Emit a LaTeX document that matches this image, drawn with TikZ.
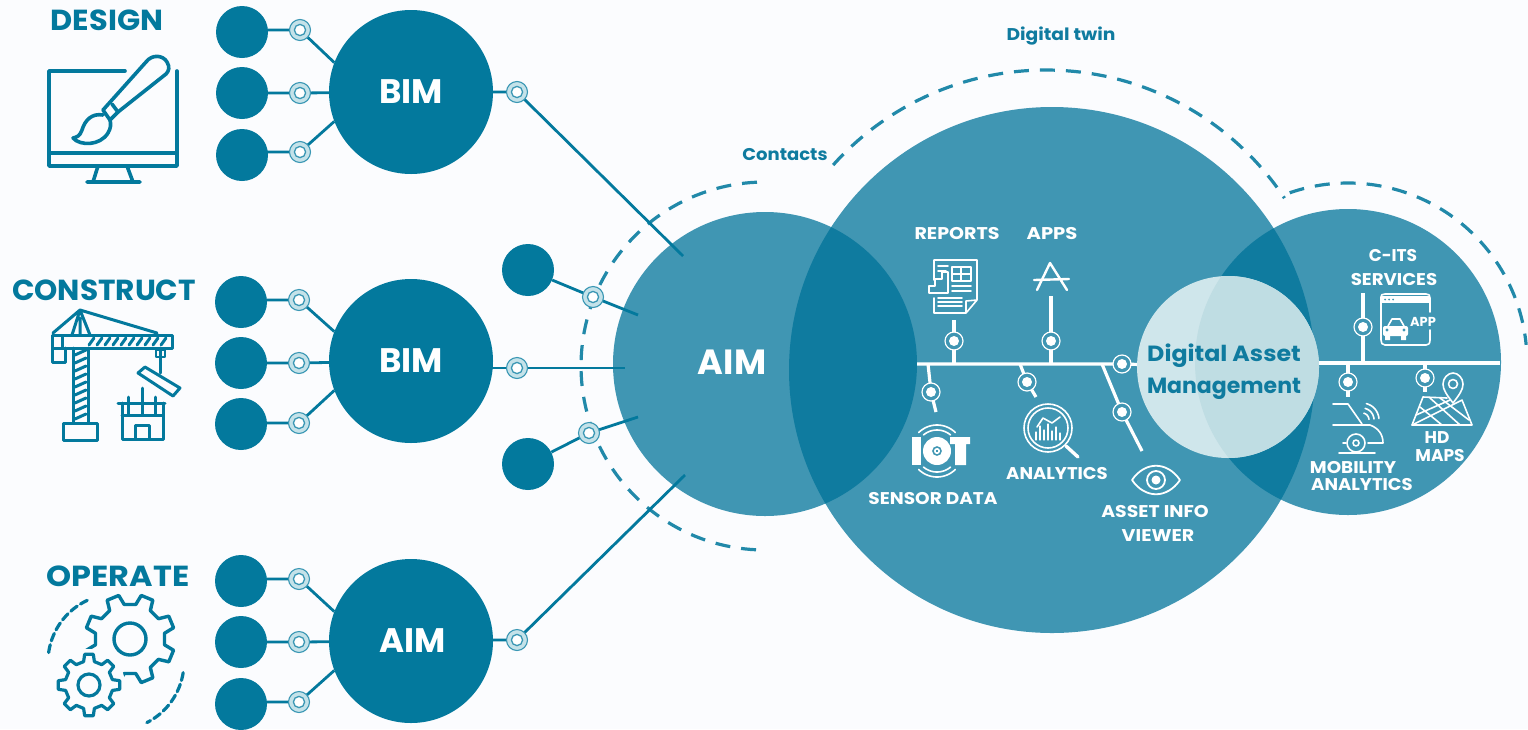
\documentclass[tikz,border=0pt]{standalone}
\usepackage{fontspec}
\usepackage{graphicx}
\setmainfont{Poppins}
\usetikzlibrary{calc}
\definecolor{bgc}{HTML}{FBFCFE}
\definecolor{deep}{HTML}{03799D}
\definecolor{mid}{HTML}{4096B3}
\definecolor{lens}{HTML}{0F7B9F}
\definecolor{damA}{HTML}{CFE6EB}
\definecolor{damB}{HTML}{BFDDE3}
\definecolor{rlight}{HTML}{C4E2E9}
\definecolor{rline}{HTML}{3A97B4}
\pgfdeclarelayer{bgl}\pgfdeclarelayer{bigc}\pgfdeclarelayer{lines}
\pgfsetlayers{bgl,bigc,lines,main}
\newcommand{\sz}[1]{\fontsize{#1}{#1}\selectfont}
\newcommand{\sx}[2]{\scalebox{#1}[1]{#2}}
\tikzset{
 x=1pt,y=-1pt,
 smallc/.style={circle,fill=deep,minimum size=52pt,inner sep=0},
 bigb/.style={circle,fill=deep,minimum size=164pt,inner sep=0,text=white,font=\bfseries\sz{34}},
 ringo/.style={circle,fill=rlight,draw=rline,line width=1.1pt,minimum size=21pt,inner sep=0,
   path picture={\fill[white,draw=rline,line width=1.3pt] (path picture bounding box.center) circle[radius=5.6pt];}},
 ringw/.style={circle,fill=mid,draw=white,line width=1.2pt,minimum size=18pt,inner sep=0,
   path picture={\fill[white] (path picture bounding box.center) circle[radius=5pt];}},
 conn/.style={draw=deep,line width=2.8pt},
 wl/.style={draw=white,line width=3.2pt},
 dsh/.style={draw=deep!88!white,line width=3.2pt,dash pattern=on 15pt off 11pt},
 dsm/.style={draw=deep,line width=3.2pt,dash pattern=on 8pt off 4pt,line cap=round},
 head/.style={text=deep,font=\bfseries\sz{29},inner sep=0},
 lab/.style={text=white,font=\bfseries\sz{17},inner sep=0},
 small/.style={text=lens,font=\bfseries\sz{17},inner sep=0},
 ico/.style={draw=deep,line width=3.6pt,line join=round,line cap=round},
 wico/.style={draw=white,line width=1.6pt,line join=round,line cap=round},
 gearline/.style={draw=deep,line width=3.4pt,line join=round},
}
\begin{document}
\begin{tikzpicture}
\useasboundingbox (0,0) rectangle (1528,729);
\begin{pgfonlayer}{bgl}
\fill[bgc] (0,0) rectangle (1528,729);
\end{pgfonlayer}
% big circles
\begin{pgfonlayer}{bigc}
\node[circle,fill=mid,minimum size=304pt,inner sep=0] (aim) at (765,364) {};
\node[circle,fill=mid,minimum size=526pt,inner sep=0] (twin) at (1052,370) {};
\node[circle,fill=mid,minimum size=306pt,inner sep=0] (rgt) at (1348,362) {};
\begin{scope}\clip (1052,370) circle[radius=263];
\fill[lens] (765,364) circle[radius=152];
\fill[lens] (1348,362) circle[radius=153];
\end{scope}
\node[circle,fill=damA,minimum size=182pt,inner sep=0] (dam) at (1228,367) {};
\begin{scope}\clip (1348,362) circle[radius=153];
\fill[damB] (1228,367) circle[radius=91];
\end{scope}
\end{pgfonlayer}
% left circles
\node[bigb] (b1) at (411,92) {\raisebox{-1pt}{BIM}};
\node[bigb] (b2) at (411,361) {\raisebox{-1pt}{BIM}};
\node[bigb] (b3) at (411,641) {\raisebox{-1pt}{\hspace*{4pt}AIM}};
\node[smallc] (s1) at (242,32) {};
\node[smallc] (s2) at (242,93) {};
\node[smallc] (s3) at (242,155) {};
\node[smallc] (s4) at (241,302) {};
\node[smallc] (s5) at (241,363) {};
\node[smallc] (s6) at (241,424) {};
\node[smallc] (s7) at (241,581) {};
\node[smallc] (s8) at (241,642) {};
\node[smallc] (s9) at (241,704) {};
\node[smallc] (s10) at (528,270) {};
\node[smallc] (s11) at (528,464) {};
\node[ringo] (r1) at (300,30) {};
\node[ringo] (r2) at (300,93) {};
\node[ringo] (r3) at (300,152) {};
\node[ringo] (r4) at (299,300) {};
\node[ringo] (r5) at (299,363) {};
\node[ringo] (r6) at (299,423) {};
\node[ringo] (r7) at (299,579) {};
\node[ringo] (r8) at (299,642) {};
\node[ringo] (r9) at (299,702) {};
\node[ringo] (r10) at (517,92) {};
\node[ringo] (r11) at (517,368) {};
\node[ringo] (r12) at (517,640) {};
\node[ringo] (r13) at (593,297) {};
\node[ringo] (r14) at (589,433) {};
\coordinate (e1) at (683,256);
\coordinate (e2) at (625,368);
\coordinate (e3) at (685,475);
\coordinate (e4) at (638,315);
\coordinate (e5) at (638,417);
\begin{pgfonlayer}{lines}
% dashed arcs
\draw[dsh] plot[domain=267.5:92.5,samples=90] ({765+184*cos(\x)},{366+184*sin(\x)});
\draw[dsh] plot[domain=221.9:326.5,samples=90] ({1046+286*cos(\x)},{356+286*sin(\x)});
\draw[dsh] plot[domain=-109:-5.5,samples=70] ({1348+179*cos(\x)},{362+179*sin(\x)});
\foreach \a/\b/\c/\ang in {s1/r1/b1/159,s3/r3/b1/201,s4/r4/b2/159,s6/r6/b2/201,s7/r7/b3/159,s9/r9/b3/201}
  \draw[conn] (\a |- \b) -- (\b.center) -- (\c.\ang);
\foreach \a/\b/\c in {s2/r2/b1,s5/r5/b2,s8/r8/b3}
  \draw[conn] (\a) -- (\b.center) -- (\c);
\draw[conn] (b1) -- (r10.center) -- (e1);
\draw[conn] (b2 |- r11) -- (r11.center) -- (e2);
\draw[conn] (b3 |- r12) -- (r12.center) -- (e3);
\draw[conn] (s10) -- (r13.center) -- (e4);
\draw[conn] (s11) -- (r14.center) -- (e5);
\end{pgfonlayer}
% bus
\node[ringw] (w0) at (1122,364) {};
\node[ringw] (w1) at (954,341) {};
\node[ringw] (w2) at (1051,341) {};
\node[ringw] (w3) at (931,392) {};
\node[ringw] (w4) at (1027,382) {};
\node[ringw] (w5) at (1122,412) {};
\node[ringw] (w6) at (1363,327) {};
\node[ringw] (w7) at (1348,382) {};
\node[ringw] (w8) at (1425,378) {};
\coordinate (bl) at (917,364);
\coordinate (t1) at (954,364); \coordinate (u1) at (954,320);
\coordinate (t2) at (1051,364); \coordinate (u2) at (1051,296);
\coordinate (t3) at (928,364); \coordinate (u3) at (936,412);
\coordinate (t4) at (1020,364); \coordinate (u4) at (1036,397);
\coordinate (t5) at (1102,364); \coordinate (u5) at (1142,451);
\coordinate (t6) at (1363,363); \coordinate (u6) at (1363,293);
\coordinate (t7) at (1348,363); \coordinate (u7) at (1348,397);
\coordinate (t8) at (1425,363); \coordinate (u8) at (1425,392);
\coordinate (bs) at (1319,363); \coordinate (be) at (1500,363);
\begin{pgfonlayer}{lines}
\draw[wl] (bl) -- (w0.center) -- (dam);
\draw[wl] (bs) -- (be);
\foreach \i in {1,...,8} \draw[wl] (t\i) -- (w\i.center) -- (u\i);
\end{pgfonlayer}
% texts
\node[head] (h1) at (107,20) {\sx{1.05}{DESIGN}};
\node[head] (h2) at (104,290) {\sx{1.02}{CONSTRUCT}};
\node[head] (h3) at (118,576) {\sx{1.1}{OPERATE}};
\node[text=white,font=\bfseries\sz{35},inner sep=0] (aimt) at (732,362) {AIM};
\node[small] (t-twin) at (1061,36) {\sx{1.1}{Digital twin}};
\node[small] (t-cont) at (785,155) {\sx{1.06}{Contacts}};
\node[text=lens,font=\bfseries\sz{22},inner sep=0] (t-dama) at (1224,356) {\sx{1.08}{Digital Asset}};
\node[text=lens,font=\bfseries\sz{22},inner sep=0] (t-damb) at (1224,389) {Management};
\node[lab] (l1) at (957,234) {\sx{1.12}{REPORTS}};
\node[lab] (l2) at (1052,234) {\sx{1.15}{APPS}};
\node[lab] (l3) at (933,498) {\sx{1.09}{SENSOR DATA}};
\node[lab] (l4) at (1057,473) {\sx{1.06}{ANALYTICS}};
\node[lab] (l5) at (1155,511) {\sx{1.11}{ASSET INFO}};
\node[lab] (l6) at (1158,536) {\sx{1.12}{VIEWER}};
\node[lab] (l7) at (1393,255) {C-ITS};
\node[lab] (l8) at (1394,279) {\sx{1.07}{SERVICES}};
\node[lab] (l9) at (1353,467) {\sx{1.08}{MOBILITY}};
\node[lab] (l10) at (1362,484) {\sx{1.06}{ANALYTICS}};
\node[lab] (l11) at (1437,438) {HD};
\node[lab] (l12) at (1440,455) {MAPS};
% monitor icon
\draw[ico] (125,71) -- (49,71) -- (49,166) -- (177,166) -- (177,71);
\draw[ico] (49,153) -- (177,153);
\draw[ico] (98,166) -- (93,182) (127,166) -- (133,182) (87,182) -- (140,182);
\draw[ico] (103,110) -- (146,62) .. controls (152,54) and (163,55) .. (167,62) .. controls (170,67) and (169,71) .. (166,74) -- (118,112);
\draw[ico] (103,110) -- (110,120) -- (118,112) -- (112,104);
\draw[ico] (103,115) .. controls (92,113) and (85,120) .. (82,130) .. controls (80,136) and (77,137) .. (73,138) .. controls (80,146) and (100,146) .. (108,133) .. controls (111,128) and (111,124) .. (110,120);
% crane icon
\draw[ico,line width=3pt] (52,335) rectangle (172,348);
\draw[ico,line width=3pt] (52,348) -- (52,362) -- (65,362) -- (65,348);
\draw[ico,line width=3pt] (53,333) -- (80,310) -- (157,333) (80,310) -- (72,335) (80,310) -- (90,335) (80,318) -- (80,335);
\draw[ico,line width=3pt] (73,348) -- (73,423) (88,348) -- (88,423);
\draw[ico,line width=3pt] (63,423) rectangle (97,440);
\foreach \yy in {350,358,366,374,382,390,398,406,414} \draw[ico,line width=3pt] (75,\yy+5) -- (86,\yy);
\foreach \xx in {92,100,108,116,124,132,140,148,156,164} \draw[ico,line width=3pt] (\xx-3,345) -- (\xx+2,338);
\draw[ico,line width=3pt] (62,337) -- (62,347);
\draw[ico,line width=3pt] (160,348) -- (160,373);
\draw[ico,line width=2.6pt] (156,350) rectangle (165,357);
\draw[ico,line width=3pt] (138,373) -- (145,367) -- (180,388) -- (173,396) -- cycle;
\draw[ico,line width=3pt] (118,403) -- (165,403) (122,415) -- (163,415) (122,403) -- (122,439) -- (163,439) -- (163,403) (142,388) -- (142,415) (128,397) -- (128,415) (155,397) -- (155,415);
\draw[ico,line width=3pt] (135,439) -- (135,425) -- (149,425) -- (149,439);
% gears
\begin{scope}[shift={(130,639)}]
\draw[gearline] (22.5-13:35) \foreach \k in {0,...,7}{ -- (22.5+\k*45-13:35) -- (22.5+\k*45-8:45) -- (22.5+\k*45+8:45) -- (22.5+\k*45+13:35)} -- cycle;
\draw[gearline] (0,0) circle[radius=16];
\end{scope}
\begin{scope}[shift={(89,685)}]
\fill[bgc] (0,0) circle[radius=36];
\draw[gearline,line width=3.2pt] (0-13:24) \foreach \k in {0,...,7}{ -- (\k*45-13:24) -- (\k*45-8:31) -- (\k*45+8:31) -- (\k*45+13:24)} -- cycle;
\draw[gearline,line width=3.2pt] (0,0) circle[radius=11];
\end{scope}
\draw[dsm] plot[domain=188:245,samples=30] ({116+68*cos(\x)},{662+68*sin(\x)});
\draw[dsm] plot[domain=9:63,samples=30] ({116+68*cos(\x)},{662+68*sin(\x)});
% report icon
\draw[wico] (966,313) -- (934,313) -- (934,298) (934,280) -- (934,260) -- (977,260) -- (977,300) -- (966,313) -- (966,301) -- (977,300);
\draw[wico] (929,293) -- (929,286) -- (935,286) -- (935,279) -- (942,279) -- (942,272) -- (948,272) -- (948,293) -- cycle;
\draw[wico] (952,267) rectangle (971,281);
\draw[wico] (961,267) -- (961,281) (952,274) -- (971,274);
\draw[wico] (938,266) -- (948,266) (938,271) -- (946,271);
\draw[wico] (952,286) -- (971,286) (952,291) -- (971,291);
\draw[wico] (938,298) -- (962,298) (938,302) -- (962,302) (938,306) -- (962,306);
% apps icon
\draw[wico,line width=2.4pt] (1037,290) -- (1050,263) -- (1067,290) (1034,280) -- (1069,279);
% IoT icon
\fill[white] (912,437) rectangle (921,465);
\fill[white] (950,437) rectangle (970,444) (955,444) rectangle (966,465);
\fill[white,even odd rule] (937,451) circle[radius=14] (937,451) circle[radius=5];
\draw[wico] (937,451) circle[radius=2.2];
\draw[wico] plot[domain=-135:-45,samples=20] ({937+26*cos(\x)},{451+26*sin(\x)});
\draw[wico] plot[domain=-130:-50,samples=20] ({937+21*cos(\x)},{451+21*sin(\x)});
\draw[wico] plot[domain=45:135,samples=20] ({937+26*cos(\x)},{451+26*sin(\x)});
\draw[wico] plot[domain=50:130,samples=20] ({937+21*cos(\x)},{451+21*sin(\x)});
% magnifier icon
\draw[wico] (1048,428) circle[radius=24] (1048,428) circle[radius=20];
\draw[wico,line width=3.4pt] (1066,446) -- (1078,457);
\draw[wico] (1037,427) -- (1043,418) -- (1052,423) -- (1060,417);
\foreach \xx/\hh in {1036/8,1040/14,1044/10,1048/16,1052/9,1056/13,1060/7}
  \draw[wico,line width=1.2pt] (\xx,440) -- (\xx,440-\hh);
% eye icon
\draw[wico,line width=1.8pt] (1132,480) .. controls (1145,461) and (1167,461) .. (1180,480) .. controls (1167,499) and (1145,499) .. (1132,480) -- cycle;
\draw[wico,line width=1.8pt] (1156,480) circle[radius=9];
\fill[white] (1156,480) circle[radius=4.5];
% app icon
\draw[wico] (1430,330) -- (1430,340) .. controls (1430,344) and (1428,345) .. (1426,345) -- (1385,345) .. controls (1382,345) and (1381,343) .. (1381,340) -- (1381,297) .. controls (1381,295) and (1382,294) .. (1385,294) -- (1426,294) .. controls (1429,294) and (1430,295) .. (1430,298) -- (1430,312);
\fill[white] (1381,296) rectangle (1430,303);
\fill[mid] (1385,299.5) circle[radius=1] (1389,299.5) circle[radius=1] (1393,299.5) circle[radius=1];
\draw[wico] (1388,326) -- (1392,319) -- (1400,319) -- (1404,326);
\fill[white,rounded corners=2pt] (1383,326) rectangle (1408,336);
\fill[mid] (1387,330) circle[radius=1.6] (1404,330) circle[radius=1.6];
\fill[white] (1385,336) rectangle (1390,340) (1401,336) rectangle (1406,340);
\node[text=white,font=\bfseries\sz{13},inner sep=0] (appt) at (1423,322) {APP};
% mobility icon
\draw[wico] (1333,404) -- (1348,404) -- (1362,424) (1333,425) -- (1370,425) .. controls (1378,428) and (1383,434) .. (1383,443) -- (1368,443) (1339,453) -- (1375,453) (1343,443) -- (1346,443);
\draw[wico] (1356,443) circle[radius=9] (1356,443) circle[radius=3];
\foreach \rr in {7,12,17} \draw[wico] plot[domain=-75:-5,samples=12] ({1362+\rr*cos(\x)},{420+\rr*sin(\x)});
% map icon
\draw[wico] (1423,397) -- (1447,398) (1462,400) -- (1472,425) -- (1412,425) -- cycle;
\draw[wico] (1412,425) -- (1423,397);
\draw[wico] (1420,407) -- (1442,425) (1430,398) -- (1460,425) (1440,398) -- (1469,420) (1416,415) -- (1450,400);
\draw[wico,fill=mid] (1453,403) .. controls (1447,395) and (1443,390) .. (1443,384) .. controls (1443,378) and (1448,373) .. (1453,373) .. controls (1458,373) and (1463,378) .. (1463,384) .. controls (1463,390) and (1459,395) .. (1453,403) -- cycle;
\draw[wico] (1453,384) circle[radius=4.5];
\end{tikzpicture}
\end{document}
